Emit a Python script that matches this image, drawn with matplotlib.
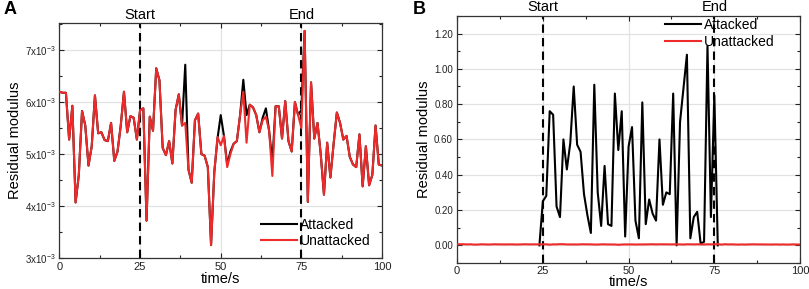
import numpy as np
import matplotlib.pyplot as plt
from matplotlib.ticker import FixedLocator, FixedFormatter, MultipleLocator

plt.rcParams['font.family'] = ['Liberation Sans', 'DejaVu Sans']
plt.rcParams['mathtext.default'] = 'regular'

# Panel A: residual modulus (x1e-3), t = 0..100 s
t_a = np.arange(0, 101)
a_unattacked = [
    6.20, 6.18, 6.18, 5.28, 5.93, 4.07, 4.60, 5.83, 5.55, 4.78,
    5.15, 6.13, 5.40, 5.42, 5.27, 5.25, 5.60, 4.87, 5.05, 5.55,
    6.20, 5.42, 5.73, 5.70, 5.28, 5.85, 5.88, 3.72, 5.72, 5.45,
    6.65, 6.42, 5.12, 4.98, 5.25, 4.82, 5.85, 6.15, 5.55, 5.60,
    4.70, 4.45, 5.65, 5.78, 5.00, 4.97, 4.75, 3.25, 4.65, 5.33,
    5.17, 5.35, 4.75, 5.00, 5.20, 5.25, 5.75, 6.20, 5.22, 5.95,
    5.90, 5.75, 5.42, 5.65, 5.72, 5.45, 4.58, 5.92, 5.92, 5.30,
    6.02, 5.25, 5.05, 6.00, 5.75, 5.50, 7.37, 4.08, 6.38, 5.30,
    5.60, 5.00, 4.22, 5.22, 4.55, 5.20, 5.80, 5.60, 5.28, 5.35,
    4.95, 4.80, 4.75, 5.38, 4.38, 5.15, 4.40, 4.60, 5.55, 4.80,
    4.78,
]
a_attacked = [
    6.20, 6.18, 6.18, 5.28, 5.93, 4.07, 4.60, 5.83, 5.55, 4.78,
    5.15, 6.13, 5.40, 5.42, 5.27, 5.25, 5.60, 4.87, 5.05, 5.55,
    6.20, 5.42, 5.73, 5.70, 5.28, 5.85, 5.88, 3.72, 5.72, 5.45,
    6.65, 6.42, 5.12, 4.98, 5.25, 4.82, 5.85, 6.15, 5.55, 6.72,
    4.70, 4.45, 5.65, 5.78, 5.00, 4.97, 4.75, 3.25, 4.65, 5.30,
    5.75, 5.35, 4.80, 5.05, 5.20, 5.25, 5.75, 6.43, 5.75, 5.95,
    5.90, 5.75, 5.42, 5.70, 5.88, 5.45, 4.85, 5.92, 5.92, 5.30,
    6.02, 5.25, 5.05, 6.00, 5.75, 5.85, 7.37, 4.08, 6.38, 5.30,
    5.60, 5.00, 4.22, 5.22, 4.55, 5.20, 5.80, 5.60, 5.28, 5.35,
    4.95, 4.80, 4.75, 5.38, 4.38, 5.15, 4.40, 4.60, 5.55, 4.80,
    4.78,
]

# Panel B: attacked residual during attack window, t = 24..76 s
t_b = np.arange(24, 77)
b_attacked = [
    0.00, 0.25, 0.28, 0.76, 0.74, 0.22, 0.16, 0.60, 0.43, 0.58,
    0.90, 0.57, 0.53, 0.29, 0.17, 0.07, 0.91, 0.30, 0.11, 0.45,
    0.12, 0.11, 0.86, 0.54, 0.76, 0.05, 0.56, 0.67, 0.14, 0.04,
    0.81, 0.12, 0.26, 0.18, 0.14, 0.60, 0.23, 0.30, 0.29, 0.86,
    0.00, 0.70, 0.89, 1.08, 0.04, 0.16, 0.19, 0.01, 0.02, 1.13,
    0.16, 0.85, 0.00,
]

a_yticks = [3e-3, 4e-3, 5e-3, 6e-3, 7e-3]
a_yticklabels = ['3x10$^{-3}$', '4x10$^{-3}$', '5x10$^{-3}$', '6x10$^{-3}$', '7x10$^{-3}$']
x_ticks = [0, 25, 50, 75, 100]
b_yticks = [0.0, 0.2, 0.4, 0.6, 0.8, 1.0, 1.2]

red = '#ee2a2a'
grid_col = '#e2e2e2'

fig = plt.figure(figsize=(8.09, 2.89), dpi=100)
axA = fig.add_axes([0.0735, 0.107, 0.3987, 0.813])
axB = fig.add_axes([0.565, 0.09, 0.424, 0.855])


def style(ax, xpad, xtickpad):
    ax.set_xlim(0, 100)
    ax.xaxis.set_major_locator(FixedLocator(x_ticks))
    ax.xaxis.set_minor_locator(MultipleLocator(12.5))
    ax.tick_params(which='both', direction='in', top=True, right=True,
                   colors='#222222', pad=3)
    ax.tick_params(axis='x', labelsize=8, pad=xtickpad)
    ax.tick_params(axis='y', labelsize=7)
    ax.tick_params(which='major', length=3.5, width=0.8)
    ax.tick_params(which='minor', length=2, width=0.8)
    ax.grid(True, which='major', color=grid_col, lw=0.9)
    ax.set_axisbelow(True)
    for s in ax.spines.values():
        s.set_color('#333333')
        s.set_linewidth(0.9)
    for xv in (25, 75):
        ax.axvline(xv, color='black', ls=(0, (4, 2.5)), lw=1.5, zorder=1)
    ax.set_xlabel('time/s', fontsize=10.5, labelpad=xpad)
    ax.set_ylabel('Residual modulus', fontsize=10.5, labelpad=2)


# Panel A
style(axA, 0, 3)
axA.plot(t_a, np.array(a_attacked) * 1e-3, color='black', lw=1.5, label='Attacked', zorder=3)
axA.plot(t_a, np.array(a_unattacked) * 1e-3, color=red, lw=1.5, label='Unattacked', zorder=4)
axA.set_ylim(3e-3, 7.52e-3)
axA.yaxis.set_major_locator(FixedLocator(a_yticks))
axA.yaxis.set_major_formatter(FixedFormatter(a_yticklabels))
axA.yaxis.set_minor_locator(MultipleLocator(0.5e-3))
axA.legend(loc='lower right', bbox_to_anchor=(0.995, 0.0), frameon=False, fontsize=10,
           handlelength=2.6, handletextpad=0.2, labelspacing=0.2, borderaxespad=0.3)
axA.text(25, 1.005, 'Start', transform=axA.get_xaxis_transform(), ha='center', va='bottom', fontsize=10.5)
axA.text(75, 1.005, 'End', transform=axA.get_xaxis_transform(), ha='center', va='bottom', fontsize=10.5)

# Panel B
style(axB, -0.5, 2)
axB.plot(t_b, b_attacked, color='black', lw=1.5, label='Attacked', zorder=3)
axB.plot(t_a, np.array(a_unattacked) * 1e-3, color=red, lw=1.5, label='Unattacked', zorder=4)
axB.set_ylim(-0.1, 1.3)
axB.yaxis.set_major_locator(FixedLocator(b_yticks))
axB.yaxis.set_major_formatter(FixedFormatter(['%.2f' % v for v in b_yticks]))
axB.yaxis.set_minor_locator(MultipleLocator(0.1))
axB.legend(loc='upper right', bbox_to_anchor=(0.953, 1.03), frameon=False, fontsize=10,
           handlelength=2.6, handletextpad=0.2, labelspacing=0.2, borderaxespad=0.3)
axB.text(25, 1.008, 'Start', transform=axB.get_xaxis_transform(), ha='center', va='bottom', fontsize=10.5)
axB.text(75, 1.008, 'End', transform=axB.get_xaxis_transform(), ha='center', va='bottom', fontsize=10.5)

fig.text(0.004, 0.995, 'A', fontsize=13, fontweight='bold', ha='left', va='top')
fig.text(0.51, 0.995, 'B', fontsize=13, fontweight='bold', ha='left', va='top')

fig.savefig('out.png', dpi=100)
